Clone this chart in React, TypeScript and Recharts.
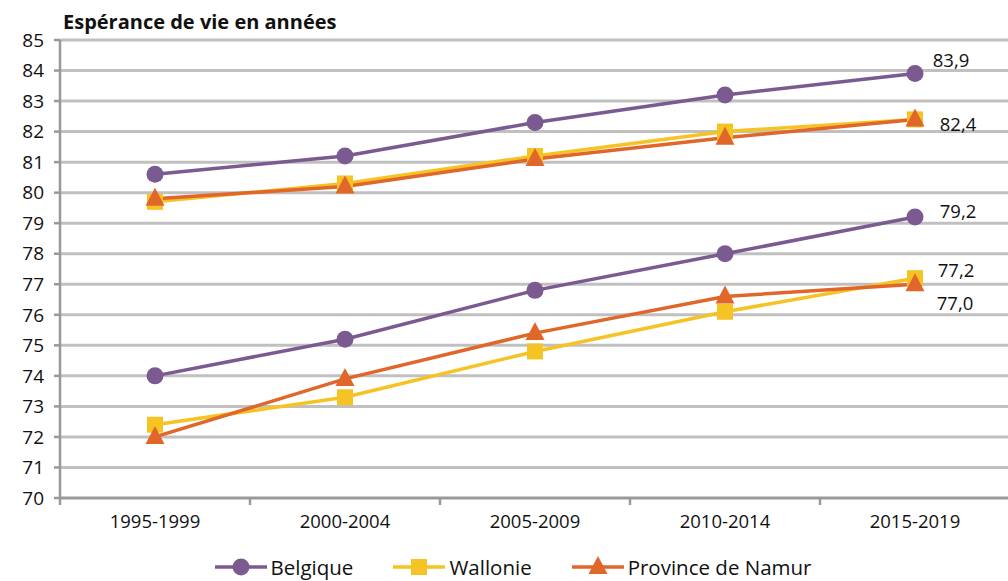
import React from 'react'
import { LineChart, Line, XAxis, YAxis, CartesianGrid, Legend } from 'recharts'

const periods = ['1995-1999', '2000-2004', '2005-2009', '2010-2014', '2015-2019']
const yTicks = [70, 71, 72, 73, 74, 75, 76, 77, 78, 79, 80, 81, 82, 83, 84, 85]

const belgiqueF = [80.6, 81.2, 82.3, 83.2, 83.9]
const belgiqueH = [74.0, 75.2, 76.8, 78.0, 79.2]
const wallonieF = [79.7, 80.3, 81.2, 82.0, 82.4]
const wallonieH = [72.4, 73.3, 74.8, 76.1, 77.2]
const namurF = [79.8, 80.2, 81.1, 81.8, 82.4]
const namurH = [72.0, 73.9, 75.4, 76.6, 77.0]

const legendNames = ['Belgique', 'Wallonie', 'Province de Namur']

const PURPLE = '#7B5A92'
const YELLOW = '#F5C323'
const ORANGE = '#E0662A'
const FONT = '"Liberation Sans Narrow", "Open Sans", sans-serif'

const data = periods.map((p, i) => ({
  period: p,
  bf: belgiqueF[i],
  bh: belgiqueH[i],
  wf: wallonieF[i],
  wh: wallonieH[i],
  nf: namurF[i],
  nh: namurH[i],
}))

const fmt = (v: number) => v.toFixed(1).replace('.', ',')

function Marker({ cx, cy, shape, color }: any) {
  if (cx == null || cy == null) return null
  if (shape === 'circle') return <circle cx={cx} cy={cy} r={8.5} fill={color} />
  if (shape === 'square') return <rect x={cx - 8} y={cy - 8} width={16} height={16} fill={color} />
  return <polygon points={`${cx},${cy - 11} ${cx + 9.5},${cy + 7} ${cx - 9.5},${cy + 7}`} fill={color} />
}

const endLabel = (dx: number, dy: number) => (props: any) => {
  const { x, y, value, index } = props
  if (index !== periods.length - 1) return null
  return (
    <text x={x + dx} y={y + dy} textAnchor="middle" dominantBaseline="central"
      fontFamily={FONT} fontSize={18.5} fill="#111">
      {fmt(value)}
    </text>
  )
}

const XTick = ({ x, y, payload }: any) => (
  <g>
    <line x1={x - 95} y1={y - 8} x2={x - 95} y2={y - 1} stroke="#999" strokeWidth={2.5} />
    <text x={x} y={y + 22} textAnchor="middle" fontFamily={FONT} fontSize={18.5} fill="#111">
      {payload.value}
    </text>
  </g>
)

const series = [
  { key: 'bf', color: PURPLE, shape: 'circle', label: endLabel(36, -14) },
  { key: 'bh', color: PURPLE, shape: 'circle', label: endLabel(43, -7) },
  { key: 'wf', color: YELLOW, shape: 'square', label: null },
  { key: 'wh', color: YELLOW, shape: 'square', label: endLabel(41, -9) },
  { key: 'nf', color: ORANGE, shape: 'triangle', label: endLabel(43, 4) },
  { key: 'nh', color: ORANGE, shape: 'triangle', label: endLabel(40, 18) },
]

const legendItems = [
  { name: legendNames[0], color: PURPLE, shape: 'circle' },
  { name: legendNames[1], color: YELLOW, shape: 'square' },
  { name: legendNames[2], color: ORANGE, shape: 'triangle' },
]

const LegendContent = () => (
  <div style={{ display: 'flex', justifyContent: 'center', gap: 40, fontFamily: FONT, fontSize: 20.5, color: '#111', paddingLeft: 16 }}>
    {legendItems.map((it) => (
      <div key={it.name} style={{ display: 'flex', alignItems: 'center' }}>
        <svg width={52} height={22}>
          <line x1={0} y1={11} x2={52} y2={11} stroke={it.color} strokeWidth={3.5} />
          <Marker cx={26} cy={11} shape={it.shape} color={it.color} />
        </svg>
        <span style={{ marginLeft: 4 }}>{it.name}</span>
      </div>
    ))}
  </div>
)

export default function App() {
  return (
    <div style={{ position: 'absolute', left: 0, top: 0, width: 1008, height: 581, overflow: 'hidden', background: '#fff' }}>
      <div style={{ position: 'absolute', left: 63, top: 8, fontFamily: FONT, fontWeight: 700, fontSize: 20, color: '#111' }}>
        Espérance de vie en années
      </div>
      <LineChart width={1012} height={581} data={data} margin={{ top: 40, right: 2, left: 0, bottom: 0 }}>
        <CartesianGrid vertical={false} stroke="#C0C0C0" strokeWidth={3} />
        <XAxis dataKey="period" scale="band" axisLine={{ stroke: '#999', strokeWidth: 2.5 }}
          tickLine={false} tick={<XTick />} height={55} interval={0} />
        <YAxis domain={[70, 85]} ticks={yTicks} width={60} interval={0}
          axisLine={{ stroke: '#999', strokeWidth: 2.5 }} tickLine={{ stroke: '#999', strokeWidth: 2.5 }}
          tickSize={6} tick={{ fill: '#111', fontSize: 19, fontFamily: FONT, dx: -8 }} />
        <Legend verticalAlign="bottom" content={<LegendContent />} wrapperStyle={{ bottom: 0 }} />
        {series.map((s) => (
          <Line key={s.key} dataKey={s.key} stroke={s.color} strokeWidth={3.5} type="linear"
            isAnimationActive={false} legendType="none"
            dot={(p: any) => <Marker key={`${s.key}-${p.index}`} {...p} shape={s.shape} color={s.color} />}
            activeDot={false}
            label={s.label ? s.label : false} />
        ))}
      </LineChart>
    </div>
  )
}
